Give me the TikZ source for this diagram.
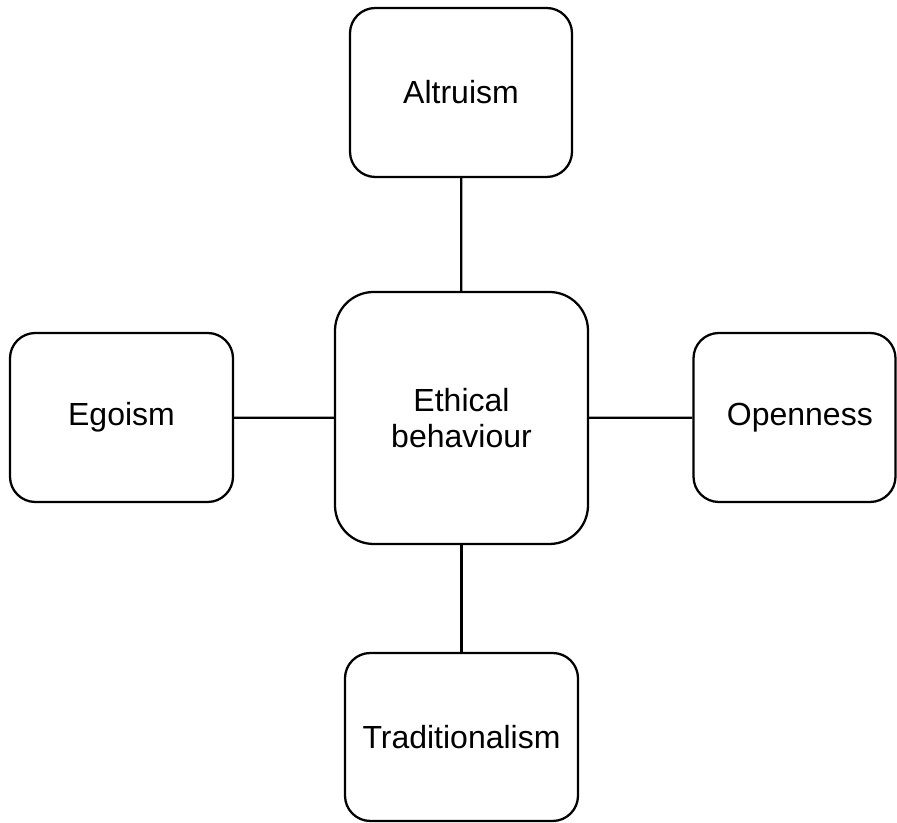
\documentclass[tikz,border=0pt]{standalone}
\usepackage{fontspec}
\setmainfont{Liberation Sans}
\begin{document}
\begin{tikzpicture}[
            x=0.75pt, y=0.75pt,
                line width=1.7pt,
                trait/.style={rectangle, draw=black, rounded corners=19pt, fill=white, font=\fontsize{24}{27}\selectfont, align=center, inner sep=0pt, minimum width=166.5pt, minimum height=126.75pt},
                hub/.style={trait, rounded corners=29pt, minimum width=189.75pt, minimum height=189pt},
                link/.style={draw=black}
            ]
              \useasboundingbox (0,0) rectangle (897,823);

              % central factor
              \node[hub] (ethics) at (461.5,405) {Ethical\\behaviour};

              % surrounding traits
              \node[trait] (altruism) at (461,730.5) {Altruism};
              \node[trait, minimum width=167.25pt] (egoism) at (121.5,405.5) {Egoism};
              \node[trait, minimum width=151.5pt] (openness) at (794.5,405.5) {\hspace*{8pt}Openness};
              \node[trait, minimum width=174.75pt, minimum height=126pt] (tradition) at (461.5,86) {Traditionalism};

              \draw[link] (altruism) -- (ethics);
              \draw[link] (egoism) -- (ethics);
              \draw[link] (ethics) -- (openness);
              \draw[link] (ethics) -- (tradition);
            \end{tikzpicture}
\end{document}
